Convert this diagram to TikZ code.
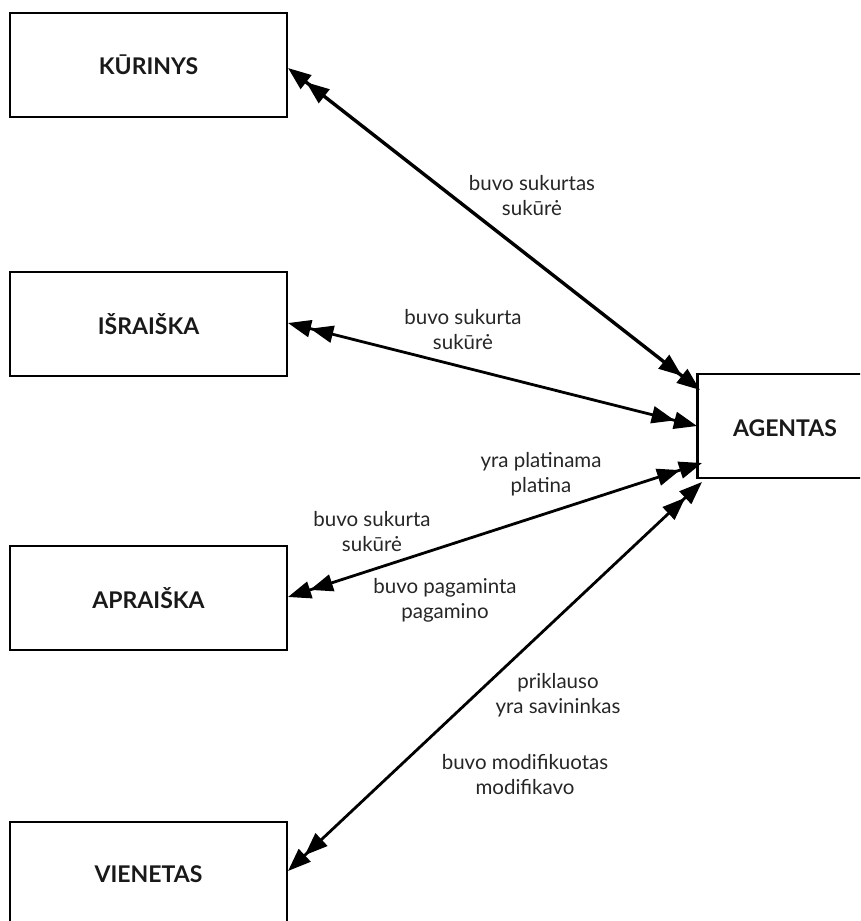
\documentclass[tikz,border=0pt]{standalone}
\usepackage{fontspec}
\setmainfont{Lato}
\usetikzlibrary{arrows.meta}
\begin{document}
\begin{tikzpicture}[x=1pt,y=-1pt,
  boxfont/.style={font=\fontsize{23}{27}\selectfont\bfseries,text=black!90},
  entity/.style={draw=black,line width=2.6pt,fill=white,minimum width=277pt,minimum height=104pt,inner sep=0pt,boxfont},
  rel/.style={line width=2.8pt,arrows={Triangle[length=23pt,width=17pt]Triangle[length=23pt,width=17pt]-Triangle[length=23pt,width=17pt]Triangle[length=23pt,width=17pt]}},
  lbl/.style={align=center,font=\fontsize{20.5}{25}\selectfont,text=black!85}]
\useasboundingbox (0,0) rectangle (860,921);
\clip (0,0) rectangle (860,921);
\node[entity] (kur) at (148.5,65) {KŪRINYS};
\node[entity] (isr) at (148.5,324) {IŠRAIŠKA};
\node[entity] (apr) at (148.5,598) {APRAIŠKA};
\node[entity] (vie) at (148.5,874) {VIENETAS};
\node[entity] (age) at (836,426) {};
\node[boxfont] (agt) at (785,428) {AGENTAS};
\coordinate (k1) at (288,68);
\coordinate (a1) at (700,390);
\coordinate (i1) at (288,323);
\coordinate (a2) at (697,426);
\coordinate (p1) at (288,597);
\coordinate (a3) at (702,463);
\coordinate (v1) at (288,871);
\coordinate (a4) at (702,482);
\draw[rel,line width=3.4pt] (a1) -- (k1);
\draw[rel] (i1) -- (a2);
\draw[rel] (p1) -- (a3);
\draw[rel] (v1) -- (a4);
\node[lbl] (l1) at (532,196) {buvo sukurtas\\sukūrė};
\node[lbl] (l2) at (463,330) {buvo sukurta\\sukūrė};
\node[lbl] (l3) at (541,474) {yra platinama\\platina};
\node[lbl] (l4) at (372,532) {buvo sukurta\\sukūrė};
\node[lbl] (l5) at (445,600) {buvo pagaminta\\pagamino};
\node[lbl] (l6) at (558,695) {priklauso\\yra savininkas};
\node[lbl] (l7) at (525,775) {buvo modifikuotas\\modifikavo};
\end{tikzpicture}
\end{document}
